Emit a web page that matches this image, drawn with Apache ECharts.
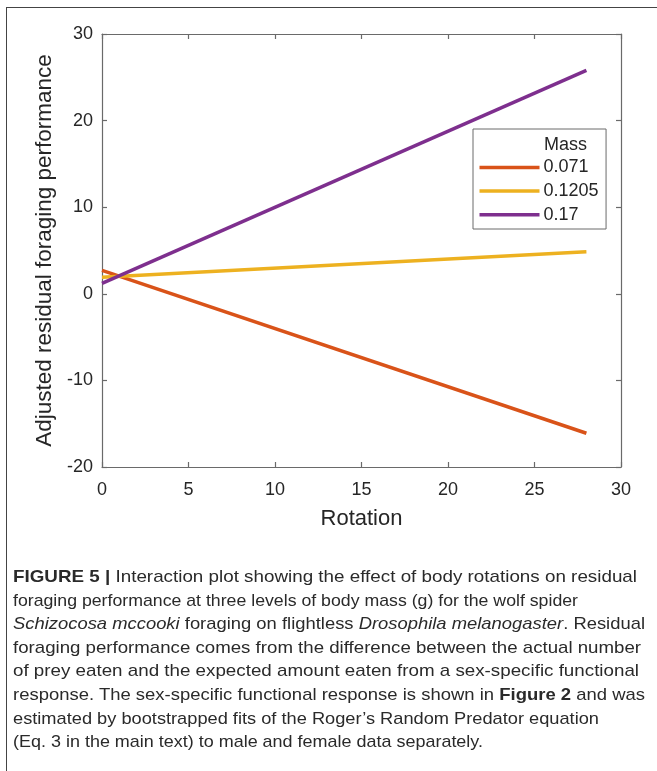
<!DOCTYPE html>
<html>
<head>
<meta charset="utf-8">
<script src="https://cdn.jsdelivr.net/npm/echarts@6/dist/echarts.min.js"></script>
<style>
  html, body { margin: 0; padding: 0; background: #fff; overflow: hidden; }
  #wrap { position: relative; width: 657px; height: 771px; overflow: hidden; }
  #frame { position: absolute; left: 6px; top: 7px; width: 720px; height: 820px; border: 1px solid #444; box-sizing: border-box; }
  #chart { position: absolute; left: 0; top: 0; width: 657px; height: 771px; }
  #caption { position: absolute; left: 13px; top: 565px; width: 640px; font-family: "Liberation Sans", Arial, sans-serif; font-size: 17px; color: #2a2a2a; }
  #caption .ln { white-space: nowrap; height: 23.6px; line-height: 23.6px; }
  #caption .ln span { display: inline-block; transform-origin: left center; }
  #caption b { font-weight: bold; }
</style>
</head>
<body>
<div id="wrap">
  <div id="frame"></div>
  <div id="chart"></div>
  <div id="caption"></div>
</div>
<script>
// ---- data ----
const rotation = [0, 28];
const seriesNames = ['0.071', '0.1205', '0.17'];
const mass071 = [2.7, -16.1];
const mass1205 = [1.9, 4.85];
const mass17 = [1.2, 25.8];
const xTicks = [0, 5, 10, 15, 20, 25, 30];
const yTicks = [-20, -10, 0, 10, 20, 30];
const legendTitle = 'Mass';
const xTitle = 'Rotation';
const yTitle = 'Adjusted residual foraging performance';
const captionLines = [
  '<b>FIGURE 5 |</b> Interaction plot showing the effect of body rotations on residual',
  'foraging performance at three levels of body mass (g) for the wolf spider',
  '<i>Schizocosa mccooki</i> foraging on flightless <i>Drosophila melanogaster</i>. Residual',
  'foraging performance comes from the difference between the actual number',
  'of prey eaten and the expected amount eaten from a sex-specific functional',
  'response. The sex-specific functional response is shown in <b>Figure 2</b> and was',
  'estimated by bootstrapped fits of the Roger\u2019s Random Predator equation',
  '(Eq. 3 in the main text) to male and female data separately.'
];
// layout: measured line widths (px) of the caption in the reference
const captionWidths = [624, 565, 632, 628, 626, 632, 586, 470];

const colors = ['#D95319', '#EDB120', '#7E2F8E'];
const valueSets = [mass071, mass1205, mass17];
const pairs = v => rotation.map((x, i) => [x, v[i]]);

const chart = echarts.init(document.getElementById('chart'), null, { renderer: 'canvas' });
const font = '"Liberation Sans", Arial, sans-serif';
const axisColor = '#6a6a6a';
const textColor = '#262626';

const baseX = {
  type: 'value', min: xTicks[0], max: xTicks[xTicks.length - 1], interval: 5,
  axisLine: { show: true, onZero: false, lineStyle: { color: axisColor, width: 1.2 } },
  axisTick: { show: true, inside: true, length: 5, lineStyle: { color: axisColor, width: 1.2 } },
  splitLine: { show: false }
};
const baseY = {
  type: 'value', min: yTicks[0], max: yTicks[yTicks.length - 1], interval: 10,
  axisLine: { show: true, onZero: false, lineStyle: { color: axisColor, width: 1.2 } },
  axisTick: { show: true, inside: true, length: 5, lineStyle: { color: axisColor, width: 1.2 } },
  splitLine: { show: false }
};

chart.setOption({
  animation: false,
  grid: { left: 102, top: 34, width: 519, height: 433, containLabel: false },
  xAxis: [
    Object.assign({}, baseX, {
      position: 'bottom',
      name: xTitle, nameLocation: 'middle', nameGap: 41,
      nameTextStyle: { fontFamily: font, fontSize: 22, color: textColor },
      axisLabel: { show: true, margin: 14, fontFamily: font, fontSize: 18, color: textColor }
    }),
    Object.assign({}, baseX, { position: 'top', axisLabel: { show: false } })
  ],
  yAxis: [
    Object.assign({}, baseY, {
      position: 'left',
      name: yTitle, nameLocation: 'middle', nameGap: 40,
      nameTextStyle: { fontFamily: font, fontSize: 22.5, color: textColor },
      axisLabel: { show: true, margin: 9, fontFamily: font, fontSize: 18, color: textColor }
    }),
    Object.assign({}, baseY, { position: 'right', axisLabel: { show: false } })
  ],
  legend: {
    data: seriesNames,
    orient: 'vertical',
    left: 473, top: 129,
    padding: [29.5, 7.5, 5.3, 6.5],
    itemGap: 5.6,
    itemWidth: 60, itemHeight: 3.5,
    icon: 'rect',
    backgroundColor: '#fff',
    borderColor: '#6a6a6a', borderWidth: 1,
    textStyle: { fontFamily: font, fontSize: 18, color: textColor, padding: [0, 0, 0, -1] }
  },
  graphic: [{
    type: 'text', left: 544, top: 136, z: 100,
    style: { text: legendTitle, font: '18px ' + font, fill: textColor }
  }],
  series: valueSets.map((v, i) => ({
    name: seriesNames[i], type: 'line', data: pairs(v),
    showSymbol: false, symbol: 'none',
    lineStyle: { color: colors[i], width: 3.5 },
    itemStyle: { color: colors[i] }
  }))
});

// caption
const cap = document.getElementById('caption');
const spans = captionLines.map(t => {
  const d = document.createElement('div');
  d.className = 'ln';
  const s = document.createElement('span');
  s.innerHTML = t;
  d.appendChild(s);
  cap.appendChild(d);
  return s;
});
spans.forEach((s, i) => {
  const w = s.getBoundingClientRect().width;
  s.style.transform = 'scaleX(' + (captionWidths[i] / w) + ')';
});
</script>
</body>
</html>
